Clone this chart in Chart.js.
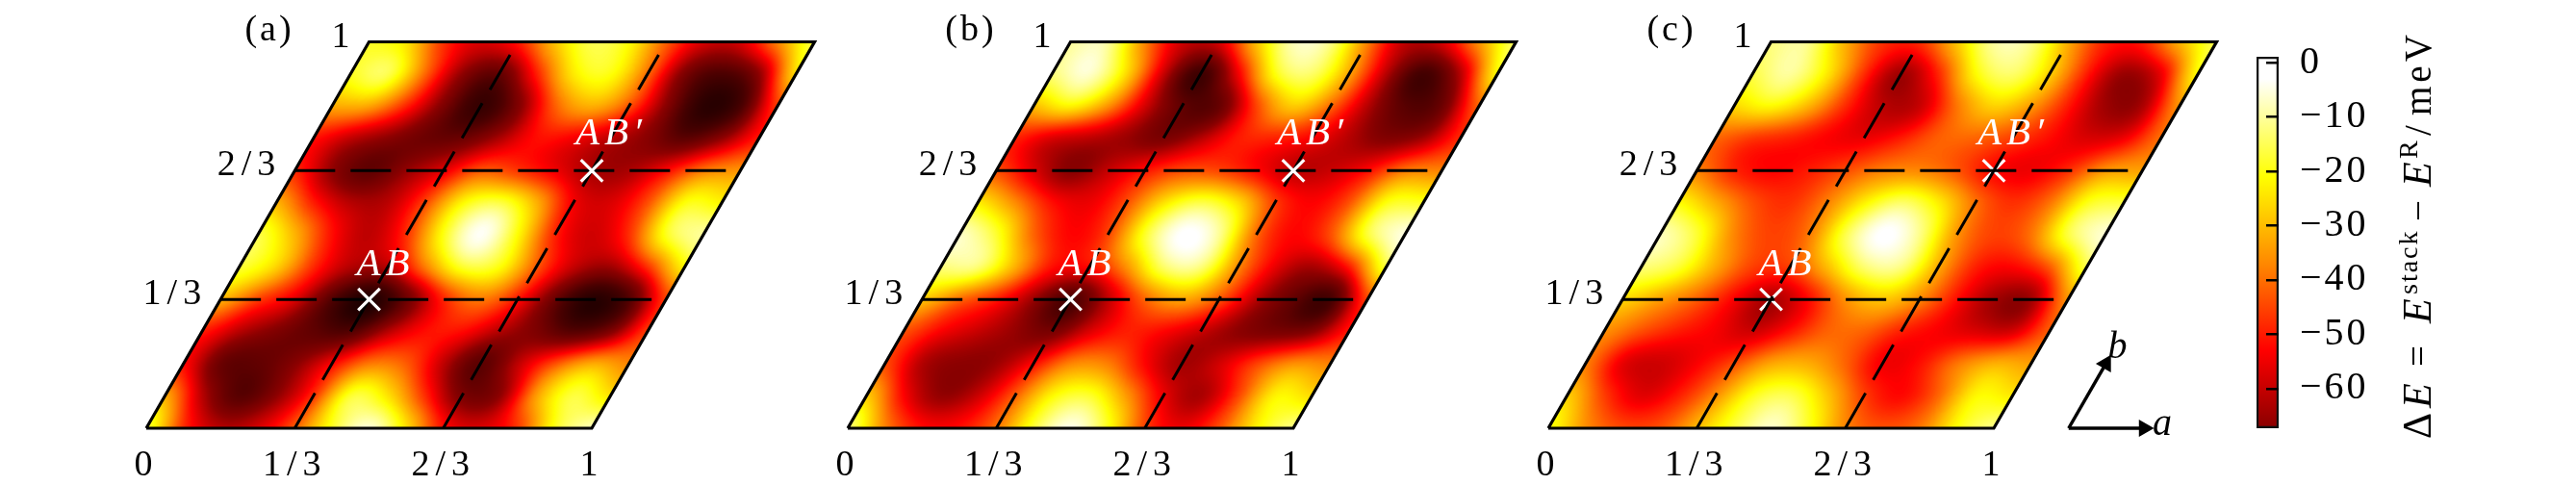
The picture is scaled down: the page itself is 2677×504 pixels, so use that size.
<!DOCTYPE html>
<html>
<head>
  <title>Stacking energy maps</title>
  <script src="https://cdn.jsdelivr.net/npm/chart.js"></script>
  <style>
    html, body { margin: 0; padding: 0; background: #fff; overflow: hidden; }
    canvas { position: absolute; top: 0; }
  </style>
</head>
<body>

<canvas id="panelA" width="802" height="504" style="left:62px"></canvas>
<canvas id="panelB" width="802" height="504" style="left:791px"></canvas>
<canvas id="panelC" width="802" height="504" style="left:1519px"></canvas>
<canvas id="colorbar" width="357" height="504" style="left:2320px"></canvas>

<script>
// energy in meV on a 13 x 13 lattice grid, a = i/12 along a row, first row is b = 0
const gridA = [
  [-14,-48,-62,-58,-42,-18,-3,-24,-52,-58,-48,-18,-6],
  [-30,-62,-80,-68,-48,-14,-24,-48,-72,-70,-32,-14,-25],
  [-52,-76,-76,-68,-52,-38,-42,-62,-80,-60,-42,-30,-38],
  [-50,-62,-70,-76,-80,-62,-52,-52,-62,-70,-80,-72,-45],
  [-30,-46,-56,-80,-95,-76,-50,-38,-50,-75,-92,-82,-45],
  [-16,-25,-48,-62,-62,-38,-16,-18,-42,-60,-66,-48,-20],
  [-14,-30,-52,-62,-48,-18,0,-20,-50,-60,-48,-16,-8],
  [-30,-50,-62,-62,-45,-20,-14,-30,-55,-58,-44,-18,-22],
  [-48,-68,-78,-66,-56,-42,-48,-56,-64,-64,-52,-38,-35],
  [-52,-62,-68,-74,-74,-64,-52,-55,-62,-68,-78,-68,-50],
  [-32,-32,-48,-70,-88,-72,-42,-30,-42,-68,-90,-84,-45],
  [-18,-12,-40,-68,-78,-50,-22,-18,-40,-72,-82,-70,-22],
  [-18,-24,-48,-58,-50,-28,-14,-20,-42,-58,-58,-36,-14]
];
const gridB = [
  [-10,-38,-52,-52,-40,-16,-2,-18,-46,-56,-44,-22,-10],
  [-26,-54,-68,-60,-42,-20,-16,-34,-56,-66,-46,-20,-26],
  [-44,-64,-68,-66,-52,-36,-38,-54,-66,-58,-44,-34,-38],
  [-44,-54,-60,-66,-72,-58,-50,-54,-60,-68,-72,-70,-50],
  [-28,-42,-50,-66,-84,-62,-42,-32,-42,-62,-76,-86,-44],
  [-12,-10,-30,-52,-52,-36,-12,-10,-36,-56,-66,-52,-14],
  [-5,-16,-42,-54,-46,-16,0,-8,-42,-54,-44,-14,-3],
  [-22,-36,-52,-56,-44,-24,-14,-24,-46,-54,-44,-18,-18],
  [-44,-58,-70,-60,-50,-44,-46,-54,-62,-60,-52,-38,-38],
  [-50,-60,-62,-66,-72,-62,-50,-50,-54,-62,-70,-66,-48],
  [-30,-20,-34,-58,-76,-78,-46,-26,-40,-62,-78,-76,-40],
  [-12,-4,-24,-60,-88,-56,-18,-12,-32,-62,-86,-64,-18],
  [-10,-8,-38,-60,-58,-28,-6,-10,-38,-62,-58,-34,-12]
];
const gridC = [
  [-18,-36,-45,-44,-30,-16,-5,-18,-38,-44,-40,-20,-10],
  [-26,-46,-58,-50,-36,-18,-14,-28,-46,-54,-42,-20,-24],
  [-38,-58,-60,-54,-44,-32,-32,-42,-56,-52,-38,-30,-34],
  [-36,-44,-50,-54,-60,-52,-42,-42,-50,-54,-58,-60,-42],
  [-26,-34,-42,-54,-66,-54,-36,-28,-36,-52,-66,-68,-34],
  [-12,-16,-32,-46,-46,-30,-12,-10,-32,-50,-54,-44,-14],
  [-6,-16,-38,-46,-40,-14,0,-10,-36,-46,-40,-14,-4],
  [-20,-32,-44,-48,-38,-22,-12,-22,-40,-48,-40,-18,-16],
  [-38,-50,-54,-50,-44,-38,-38,-44,-54,-56,-48,-34,-34],
  [-42,-48,-50,-54,-56,-50,-42,-42,-46,-52,-58,-56,-40],
  [-26,-20,-30,-48,-62,-62,-40,-26,-34,-50,-66,-66,-34],
  [-16,-8,-22,-48,-68,-50,-20,-12,-26,-50,-68,-58,-18],
  [-12,-10,-32,-48,-48,-28,-8,-10,-32,-50,-50,-30,-14]
];

const panelTags = ['(a)', '(b)', '(c)'];
const xTickValues = [0, 1/3, 2/3, 1];
const xTickLabels = ['0', '1/3', '2/3', '1'];
const bTickValues = [1/3, 2/3, 1];
const bTickLabels = ['1/3', '2/3', '1'];
const gridLines = [1/3, 2/3];
const gridLineEnd = 0.98;
const siteAB = [1/3, 1/3];
const siteABp = [2/3, 2/3];
const cellCorners = [[0,0], [1,0], [1,1], [0,1], [0,0]];
const arrowA = [[1.168,0], [1.337,0]];
const arrowB = [[1.168,0], [1.168,0.167]];

const cbTicks = [0, -10, -20, -30, -40, -50, -60];
const cmapValues = [1, -3, -21, -37, -53, -67, -80, -92, -98];
const cmapColors = [[255,255,255],[255,255,255],[255,255,0],[255,136,0],[255,0,0],[140,0,0],[74,0,0],[26,0,0],[14,8,8]];

const SERIF = '"Liberation Serif", serif';
const ENC_MIN = -100, ENC_MAX = 5;

function toXY(p) { return { x: p[0] + p[1] / 2, y: p[1] }; }

function colorAt(v) {
  if (v >= cmapValues[0]) return cmapColors[0];
  for (let k = 1; k < cmapValues.length; k++) {
    if (v >= cmapValues[k]) {
      const t = (v - cmapValues[k]) / (cmapValues[k-1] - cmapValues[k]);
      return cmapColors[k].map((c, n) => c + (cmapColors[k-1][n] - c) * t);
    }
  }
  return cmapColors[cmapColors.length - 1];
}

// the grid goes in as grey levels, the browser smooths it, then grey is mapped to colour
function heatImage(grid) {
  const rows = grid.length, cols = grid[0].length;
  const small = document.createElement('canvas');
  small.width = cols; small.height = rows;
  const sctx = small.getContext('2d');
  const cells = sctx.createImageData(cols, rows);
  grid.forEach((row, j) => row.forEach((v, i) => {
    const g = Math.round((v - ENC_MIN) / (ENC_MAX - ENC_MIN) * 255);
    const o = (j * cols + i) * 4;
    cells.data[o] = cells.data[o+1] = cells.data[o+2] = g;
    cells.data[o+3] = 255;
  }));
  sctx.putImageData(cells, 0, 0);

  const big = document.createElement('canvas');
  big.width = big.height = 700;
  const bctx = big.getContext('2d', { willReadFrequently: true });
  bctx.imageSmoothingEnabled = true;
  bctx.imageSmoothingQuality = 'high';
  bctx.drawImage(small, 0, 0, 700, 700);

  const lut = [];
  for (let g = 0; g < 256; g++) lut.push(colorAt(ENC_MIN + g / 255 * (ENC_MAX - ENC_MIN)));
  const img = bctx.getImageData(0, 0, 700, 700);
  for (let o = 0; o < img.data.length; o += 4) {
    const c = lut[img.data[o]];
    img.data[o] = c[0]; img.data[o+1] = c[1]; img.data[o+2] = c[2]; img.data[o+3] = 255;
  }
  bctx.putImageData(img, 0, 0);
  return big;
}

const heatPlugin = {
  id: 'heat',
  beforeDraw(chart) { chart.ctx.letterSpacing = '6px'; },
  beforeDatasetsDraw(chart, args, opts) {
    const { ctx, scales } = chart;
    const px = p => ({ x: scales.x.getPixelForValue(p[0] + p[1] / 2), y: scales.y.getPixelForValue(p[1]) });
    const o = px([0,0]), ea = px([1,0]), eb = px([0,1]);
    if (!chart.$heat) chart.$heat = heatImage(opts.grid);
    ctx.save();
    ctx.beginPath();
    cellCorners.forEach((c, k) => { const q = px(c); k ? ctx.lineTo(q.x, q.y) : ctx.moveTo(q.x, q.y); });
    ctx.clip();
    ctx.transform(ea.x - o.x, ea.y - o.y, eb.x - o.x, eb.y - o.y, o.x, o.y);
    const h = 0.5 / (opts.grid.length - 1);
    ctx.imageSmoothingEnabled = true;
    ctx.imageSmoothingQuality = 'high';
    ctx.drawImage(chart.$heat, -h, -h, 1 + 2 * h, 1 + 2 * h);
    ctx.restore();
  }
};

const labelPlugin = {
  id: 'labels',
  afterDatasetsDraw(chart, args, opts) {
    const { ctx, scales } = chart;
    const px = p => ({ x: scales.x.getPixelForValue(p[0] + p[1] / 2), y: scales.y.getPixelForValue(p[1]) });
    ctx.save();
    ctx.textBaseline = 'alphabetic';
    ctx.fillStyle = '#000';
    ctx.font = '38px ' + SERIF;
    ctx.textAlign = 'right';
    ctx.letterSpacing = '6px';
    bTickValues.forEach((b, k) => {
      const q = px([0, b]);
      ctx.fillText(bTickLabels[k], q.x - 14, q.y + 5);
    });
    ctx.textAlign = 'center';
    ctx.letterSpacing = '3px';
    const o = px([0,0]);
    ctx.fillText(opts.tag, o.x + 128, 42);

    ctx.fillStyle = '#fff';
    ctx.font = 'italic 41px ' + SERIF;
    ctx.letterSpacing = '5px';
    const s1 = px(siteAB), s2 = px(siteABp);
    ctx.fillText('AB', s1.x + 17, s1.y - 25);
    ctx.fillText('AB\u2032', s2.x + 20, s2.y - 27);
    ctx.letterSpacing = '0px';

    if (opts.arrows) {
      ctx.fillStyle = '#000';
      ctx.font = 'italic 40px ' + SERIF;
      const ta = px(arrowA[1]), tb = px(arrowB[1]);
      ctx.textAlign = 'left';
      ctx.fillText('a', ta.x + 9, ta.y + 7);
      ctx.fillText('b', tb.x + 2, tb.y - 6);
    }
    ctx.restore();
  }
};

function makePanel(id, grid, tag, crossOnTop, arrows) {
  const datasets = [];
  gridLines.forEach(v => {
    const line = { borderColor: '#000', borderWidth: 3, borderDash: [42, 16], pointRadius: 0, showLine: true, clip: false, order: 2 };
    datasets.push({ ...line, data: [[0, v], [gridLineEnd, v]].map(toXY) });
    datasets.push({ ...line, data: [[v, 0], [v, gridLineEnd]].map(toXY) });
  });
  datasets.push({ data: [siteAB, siteABp].map(toXY), showLine: false, pointStyle: 'crossRot', pointRadius: 16,
    pointBorderColor: '#fff', pointBorderWidth: 3.2, order: crossOnTop ? 1 : 3 });
  datasets.push({ data: cellCorners.map(toXY), borderColor: '#000', borderWidth: 3.2, pointRadius: 0, showLine: true, clip: false, order: 0 });
  if (arrows) {
    [[arrowA, 90], [arrowB, 30]].forEach(([pts, rot]) => {
      datasets.push({ data: pts.map(toXY), borderColor: '#000', borderWidth: 3.5, showLine: true, clip: false,
        pointStyle: 'triangle', pointRadius: [0, 7], pointRotation: rot, pointBackgroundColor: '#000', pointBorderColor: '#000', order: 0 });
    });
  }
  return new Chart(document.getElementById(id), {
    type: 'scatter',
    data: { datasets },
    plugins: [heatPlugin, labelPlugin],
    options: {
      responsive: false,
      animation: false,
      devicePixelRatio: 1,
      layout: { autoPadding: false, padding: { left: 90, right: 17.5, top: 43.5, bottom: 0 } },
      scales: {
        x: {
          type: 'linear', min: 0, max: 1.5, position: 'bottom',
          grid: { display: false, drawTicks: false }, border: { display: false },
          afterFit: s => { s.height = 59; },
          afterBuildTicks: s => { s.ticks = xTickValues.map(v => ({ value: v })); },
          ticks: {
            autoSkip: false, maxRotation: 0, padding: 16, color: '#000',
            font: { family: '"Liberation Serif"', size: 38 },
            callback: (v, i) => xTickLabels[i]
          }
        },
        y: { type: 'linear', min: 0, max: 1, display: false }
      },
      plugins: {
        legend: { display: false }, tooltip: { enabled: false },
        heat: { grid }, labels: { tag, arrows }
      }
    }
  });
}

makePanel('panelA', gridA, panelTags[0], true, false);
makePanel('panelB', gridB, panelTags[1], true, false);
makePanel('panelC', gridC, panelTags[2], false, true);

// colour bar title: text, style, rise above the baseline, distance along the bar
const titleParts = [
  ['\u0394', '42px ', 0, 456, 0], ['E', 'italic 42px ', 0, 424, 0], ['=', '39px ', 0, 381, 0],
  ['E', 'italic 42px ', 0, 336, 0], ['stack', '28px ', 14, 306, 2], ['\u2212', '39px ', 0, 230, 0],
  ['E', 'italic 42px ', 0, 194, 0], ['R', '28px ', 14, 165, 0], ['/', '39px ', 0, 141, 2],
  ['meV', '39px ', 0, 120, 4]
];

const titlePlugin = {
  id: 'cbTitle',
  beforeDraw(chart) { chart.ctx.letterSpacing = '3px'; },
  afterDraw(chart) {
    const { ctx } = chart;
    const left = chart.canvas.offsetLeft;
    ctx.save();
    ctx.fillStyle = '#000';
    ctx.textAlign = 'left';
    ctx.textBaseline = 'alphabetic';
    titleParts.forEach(([t, f, rise, pos, sp]) => {
      ctx.save();
      ctx.translate(2526 - left, pos);
      ctx.rotate(-Math.PI / 2);
      ctx.font = f + SERIF;
      ctx.letterSpacing = sp + 'px';
      ctx.fillText(t, 0, -rise);
      ctx.restore();
    });
    ctx.restore();
  }
};

function barGradient(c) {
  const { chart } = c;
  if (!chart.chartArea) return '#f00';
  const y = chart.scales.y;
  const g = chart.ctx.createLinearGradient(0, y.bottom, 0, y.top);
  const cut = cmapValues.filter(v => v >= y.min);
  const span = y.max - y.min;
  g.addColorStop(0, 'rgb(' + colorAt(y.min).join(',') + ')');
  cut.slice().reverse().forEach(v => {
    const t = Math.min(1, (v - y.min) / span);
    g.addColorStop(t, 'rgb(' + colorAt(v).join(',') + ')');
  });
  return g;
}

new Chart(document.getElementById('colorbar'), {
  type: 'bar',
  data: {
    labels: [''],
    datasets: [{ data: [[-67.3, 1.1]], backgroundColor: barGradient, borderColor: '#111', borderWidth: 2.6,
      borderSkipped: false, barPercentage: 1, categoryPercentage: 1 }]
  },
  plugins: [titlePlugin],
  options: {
    responsive: false,
    animation: false,
    devicePixelRatio: 1,
    layout: { autoPadding: false, padding: { left: 25, right: 0, top: 39, bottom: 52 } },
    scales: {
      x: { display: false },
      y: {
        position: 'right', min: -67.3, max: 1.1,
        afterFit: s => { s.width = 309; },
        afterBuildTicks: s => { s.ticks = cbTicks.map(v => ({ value: v })); },
        border: { display: false },
        grid: { drawOnChartArea: false, drawTicks: true, tickLength: -13, color: '#000', lineWidth: 2.5, z: 1 },
        ticks: {
          padding: 35, color: '#000', autoSkip: false,
          font: { family: '"Liberation Serif"', size: 40 },
          callback: v => v === 0 ? '0' : '\u2212' + Math.abs(v)
        }
      }
    },
    plugins: { legend: { display: false }, tooltip: { enabled: false } }
  }
});
</script>

</body>
</html>
